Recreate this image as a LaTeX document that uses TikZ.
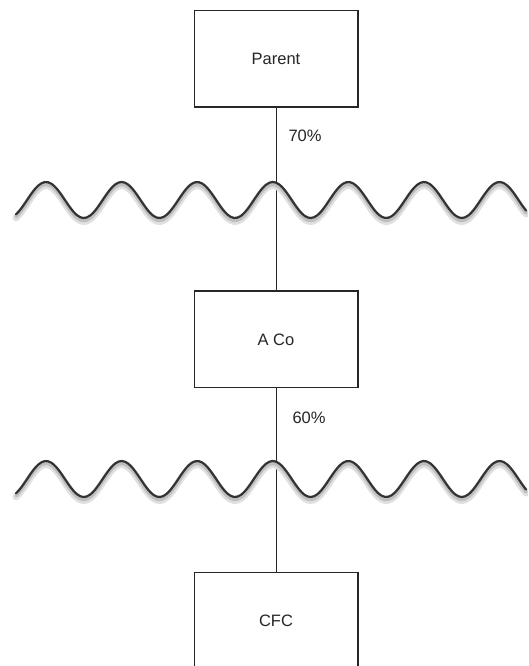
\documentclass[tikz,border=0pt]{standalone}
\usepackage{fontspec}
\setmainfont{Liberation Sans}
\usetikzlibrary{positioning}

\tikzset{
    entity/.style={draw=black!85, line width=1.5pt, fill=white,
        minimum width=163.5pt, minimum height=96.5pt,
        font=\fontsize{16.5}{19}\selectfont, text=black!85},
    link/.style={draw=black!85, line width=1pt},
    share/.style={font=\fontsize{16.5}{19}\selectfont, text=black!85,
        anchor=west, inner sep=0pt},
    wave/.style={draw=black!80, line width=2.2pt, line cap=round, line join=round},
    waveshadow/.style={draw=black!12, line width=7pt, line cap=round, line join=round},
}

\begin{document}
\begin{tikzpicture}[x=1pt, y=1pt]
    \clip (0,0) rectangle (528,666);
    \fill[white] (0,0) rectangle (528,666);

    \node[entity] (parent) at (276,607) {Parent};
    \node[entity, below=182.5pt of parent] (aco) {A Co};
    \node[entity, below=183.5pt of aco] (cfc) {CFC};

    \draw[link] (parent) -- node[share, pos=0.155, xshift=12pt] {70\%} (aco);
    \draw[link] (aco) -- node[share, pos=0.16, xshift=16pt] {60\%} (cfc);

    % ownership break lines
    \foreach \wy in {466,187} {
        \draw[waveshadow, yshift=-3.5pt] plot[domain=16:526, samples=160, smooth]
            (\x, {\wy + 18*cos((\x-46)*4.762)});
        \draw[draw=black!25, line width=3.5pt, line cap=round, yshift=-2.5pt] plot[domain=16:526, samples=160, smooth]
            (\x, {\wy + 18*cos((\x-46)*4.762)});
        \draw[wave] plot[domain=16:526, samples=160, smooth]
            (\x, {\wy + 18*cos((\x-46)*4.762)});
    }
\end{tikzpicture}
\end{document}
